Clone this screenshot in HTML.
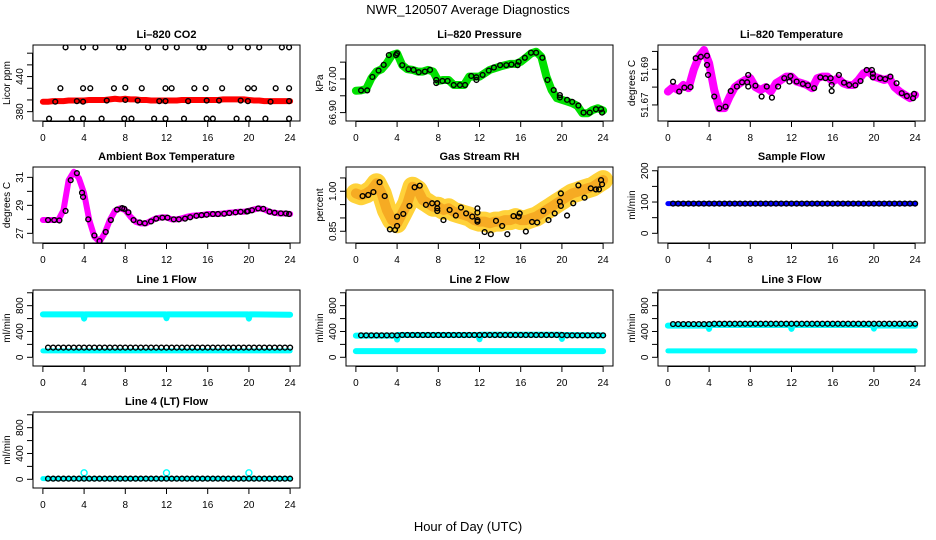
<!DOCTYPE html>
<html><head><meta charset="utf-8">
<style>
html,body{margin:0;padding:0;background:#fff;}
svg{display:block;font-family:"Liberation Sans",Arial,sans-serif;}
.ttl{font-size:11px;font-weight:bold;text-anchor:middle;}
.tk{font-size:10px;text-anchor:middle;}
</style></head>
<body>
<svg id="chart" width="936" height="540" viewBox="0 0 936 540">
<text x="468" y="14" font-size="13" text-anchor="middle">NWR_120507  Average Diagnostics</text>
<text x="468" y="531" font-size="13" text-anchor="middle">Hour of Day (UTC)</text>
</svg>
<script>
// ---- data ----
const halfHours=[0,0.5,1,1.5,2,2.5,3,3.5,4,4.5,5,5.5,6,6.5,7,7.5,8,8.5,9,9.5,10,10.5,11,11.5,12,12.5,13,13.5,14,14.5,15,15.5,16,16.5,17,17.5,18,18.5,19,19.5,20,20.5,21,21.5,22,22.5,23,23.5,24];
const co2Band=[397,397,398,398,398,399,399,399,399,400,400,400,400,401,402,401,402,401,401,400,400,399,399,399,399,399,399,400,400,400,400,400,400,400,400,401,401,401,401,401,400,399,399,398,398,398,398,398,398];
const co2TopH=[2.2,3.9,5.1,7.4,7.8,10.2,11.9,13,15.2,15.6,18.2,19.9,21,23.2,23.9];
const co2TopV=[490,490,490,490,490,490,490,490,490,490,490,490,490,490,490];
const co2MidH=[1.7,3.9,4.6,6.9,8,9.6,11.9,12.5,14.7,15.8,17.4,19.9,20.5,22.6,23.9];
const co2MidV=[420,420,420,420,421,420,420,420,420,420,420,420,420,420,420];
const co2LowH=[1.2,3.3,3.9,6.2,8,9.2,11.3,11.9,14.1,15.9,17.1,19.2,19.9,22.1,23.9];
const co2LowV=[397,398,397,399,400,399,398,398,398,399,399,399,398,397,398];
const co2BotH=[0.6,2.8,3.9,5.7,7.9,8.6,10.8,11.9,13.7,15.9,16.5,18.8,19.9,21.6,23.9];
const co2BotV=[368,368,368,368,368,368,368,368,368,368,368,368,368,368,368];

const presBand=[66.965,66.966,66.97,67.002,67.022,67.029,67.047,67.071,67.076,67.041,67.029,67.027,67.022,67.022,67.027,67.022,66.994,66.997,66.997,66.982,66.982,66.982,67.007,67.007,67.007,67.017,67.027,67.032,67.037,67.041,67.045,67.045,67.051,67.063,67.076,67.081,67.066,67.007,66.967,66.943,66.938,66.933,66.928,66.92,66.898,66.898,66.908,66.913,66.906];
const presCircH=[0.5,1.1,1.6,2.2,2.7,3.2,3.9,4.0,4.5,5.1,5.6,6.1,6.7,7.2,7.8,7.8,8.4,8.9,9.5,10.1,10.6,11.2,11.7,11.7,12.3,12.9,13.4,14.0,14.6,15.1,15.7,15.8,16.4,17.0,17.5,18.1,18.6,19.2,19.8,19.8,20.5,21.0,21.6,22.1,22.7,23.3,23.8,23.9];
const presCircV=[66.966,66.966,67.006,67.025,67.042,67.071,67.071,67.076,67.041,67.029,67.027,67.02,67.022,67.027,66.997,66.988,66.994,66.994,66.982,66.982,66.982,67.009,67.005,66.997,67.012,67.025,67.034,67.041,67.041,67.043,67.041,67.051,67.063,67.078,67.078,67.063,66.997,66.967,66.945,66.952,66.938,66.932,66.921,66.9,66.9,66.91,66.91,66.9];

const tempBand=[51.6775,51.680,51.6784,51.6812,51.6794,51.6896,51.697,51.7008,51.6934,51.6784,51.6682,51.6682,51.6747,51.680,51.6822,51.684,51.685,51.680,51.6784,51.680,51.6775,51.6822,51.684,51.6859,51.6859,51.6831,51.6822,51.6812,51.6794,51.685,51.6859,51.6859,51.6831,51.685,51.6822,51.6812,51.6812,51.684,51.6878,51.6887,51.6859,51.685,51.684,51.685,51.680,51.6775,51.6756,51.6738,51.6756];
const tempCircH=[0.5,1.1,1.6,2.2,2.7,3.2,3.8,3.8,3.9,4.5,5.0,5.6,6.1,6.7,7.2,7.7,7.8,7.8,8.5,9.1,9.6,10.1,10.7,11.3,11.8,11.9,12.5,13.1,13.6,14.2,14.8,15.3,15.8,15.9,15.9,16.6,17.1,17.6,18.2,18.7,19.3,19.8,19.9,19.9,20.6,21.1,21.6,22.2,22.7,23.2,23.8,23.9];
const tempCircV=[51.683,51.6775,51.6797,51.680,51.6962,51.697,51.6976,51.6924,51.6868,51.6747,51.6681,51.669,51.6778,51.6803,51.6827,51.6827,51.6868,51.6803,51.6808,51.6747,51.6803,51.6741,51.6803,51.685,51.6831,51.6862,51.6831,51.6818,51.681,51.6794,51.6855,51.685,51.685,51.6812,51.6778,51.6868,51.6825,51.6812,51.681,51.6834,51.6896,51.6896,51.6855,51.6875,51.685,51.6845,51.6859,51.6822,51.6766,51.675,51.6738,51.6762];

const ambBand=[27.95,27.95,27.95,27.95,28.66,30.8,31.4,30.93,29.86,27.95,26.76,26.4,27.0,27.95,28.61,28.79,28.66,28.19,27.83,27.71,27.71,27.9,28.07,28.14,28.14,28.0,28.0,28.07,28.19,28.26,28.29,28.31,28.38,28.38,28.38,28.42,28.47,28.5,28.54,28.54,28.61,28.71,28.79,28.71,28.54,28.47,28.42,28.42,28.38];
const ambCircH=[0.5,1.1,1.6,2.2,2.7,3.3,3.8,3.9,4.4,5.0,5.5,6.1,6.6,7.2,7.7,7.9,8.3,8.8,9.4,9.9,10.5,11.0,11.6,12.1,12.7,13.2,13.8,14.3,14.9,15.4,15.9,16.5,17.0,17.6,18.1,18.7,19.2,19.8,19.9,20.3,20.9,21.4,22.0,22.5,23.1,23.6,23.9];
const ambCircV=[27.95,27.95,27.92,28.6,30.8,31.3,29.9,29.6,28.0,26.85,26.45,27.1,27.95,28.7,28.8,28.75,28.5,27.95,27.78,27.72,27.85,28.05,28.12,28.12,28.0,28.0,28.05,28.15,28.25,28.3,28.33,28.38,28.38,28.4,28.45,28.5,28.54,28.56,28.58,28.65,28.78,28.75,28.55,28.47,28.43,28.42,28.38];

const rhBand=[0.992,0.985,0.992,1.005,1.03,0.992,0.93,0.892,0.88,0.917,0.955,1.017,1.005,0.967,0.955,0.942,0.942,0.93,0.936,0.923,0.917,0.911,0.905,0.892,0.886,0.886,0.88,0.886,0.886,0.892,0.892,0.899,0.892,0.892,0.899,0.905,0.917,0.93,0.942,0.955,0.967,0.98,0.992,0.998,1.005,1.011,1.017,1.03,1.042];
const rhCircH=[0.65,1.2,1.7,2.3,2.8,3.3,3.8,4.0,4.0,4.6,5.2,5.7,6.2,6.8,7.4,7.9,7.9,7.9,8.5,9.1,9.7,10.2,10.7,11.3,11.8,11.8,11.8,11.8,12.5,13.1,13.6,14.2,14.7,15.3,15.8,15.9,16.5,17.1,17.6,18.2,18.7,19.3,19.8,19.9,19.9,20.5,21.1,21.6,22.2,22.8,23.3,23.6,23.8,23.9];
const rhCircV=[0.982,0.986,0.997,1.034,0.982,0.857,0.855,0.87,0.905,0.915,0.945,1.015,1.021,0.949,0.955,0.955,0.936,0.926,0.892,0.93,0.909,0.939,0.917,0.905,0.936,0.92,0.892,0.886,0.847,0.839,0.889,0.87,0.839,0.907,0.905,0.917,0.849,0.885,0.883,0.926,0.892,0.917,0.961,0.945,0.992,0.909,0.955,1.022,0.976,1.011,1.007,1.007,1.042,1.026];

const flowCircH=[0.5,1,1.5,2,2.5,3,3.5,4,4.5,5,5.5,6,6.5,7,7.5,8,8.5,9,9.5,10,10.5,11,11.5,12,12.5,13,13.5,14,14.5,15,15.5,16,16.5,17,17.5,18,18.5,19,19.5,20,20.5,21,21.5,22,22.5,23,23.5,24];
const sampleBandH=[0,24];
const sampleBandV=[95,95];
const sampleCircV=[95,95,95,95,95,95,95,95,95,95,95,95,95,95,95,95,95,95,95,95,95,95,95,95,95,95,95,95,95,95,95,95,95,95,95,95,95,95,95,95,95,95,95,95,95,95,95,95];
const dipH=[0,3.9,4,4.1,11.9,12,12.1,19.9,20,20.1,24];
const line1UpperV=[665,665,600,665,665,605,665,665,600,665,660];
const line1LowerV=[100,100,100,100,100,100,100,100,100,100,100];
const line1CircV=[150,150,150,150,150,150,150,150,150,150,150,150,150,150,150,150,150,150,150,150,150,150,150,150,150,150,150,150,150,150,150,150,150,150,150,150,150,150,150,150,150,150,150,150,150,150,150,150];
const line2UpperV=[335,335,275,345,345,280,350,350,285,345,340];
const line2LowerV=[95,95,95,95,95,95,95,95,95,95,95];
const line2CircV=[340,340,340,340,340,340,340,340,345,345,345,345,345,345,345,345,345,345,345,345,345,345,345,345,345,345,345,345,345,345,345,345,345,345,345,345,345,345,345,345,340,340,340,340,340,340,340,340];
const line3UpperV=[490,490,440,500,500,440,500,500,445,495,490];
const line3LowerV=[100,100,100,100,100,100,100,100,100,100,100];
const line3CircV=[515,515,515,515,515,515,515,515,520,520,520,520,520,520,520,520,520,520,520,520,520,520,520,520,520,520,520,520,520,520,520,520,520,520,520,520,520,520,520,520,520,520,520,520,520,520,520,520];
const line4BandV=[10,10,10,10,10,10,10,10,10,10,10];
const line4SpikeH=[4,12,20];
const line4SpikeV=[100,100,100];
const line4CircV=[10,10,10,10,10,10,10,10,10,10,10,10,10,10,10,10,10,10,10,10,10,10,10,10,10,10,10,10,10,10,10,10,10,10,10,10,10,10,10,10,10,10,10,10,10,10,10,10];
const xTicks=[0,4,8,12,16,20,24];

// ---- drawing ----
const NS='http://www.w3.org/2000/svg';
const svg=document.getElementById('chart');
const colX=[33,346,658], rowY=[45,167,290,412], BW=267, BH=76;
function mk(tag,attrs,parent){const e=document.createElementNS(NS,tag);for(const k in attrs)e.setAttribute(k,attrs[k]);(parent||svg).appendChild(e);return e;}

function panel(key,c,r,title,ylab,ymin,ymax,yTicks,yLabels){
  const x0=colX[c], y0=rowY[r];
  const g=mk('g',{});
  
  
  const sx=h=>x0+(h+0.96)/25.92*BW;
  const sy=v=>y0+BH-(v-ymin)/(ymax-ymin)*BH;
  const t=mk('text',{x:x0+BW/2,y:y0-7,class:'ttl'},g);t.textContent=title;
  
  
  const yl=mk('text',{x:0,y:0,'font-size':10,'text-anchor':'middle',transform:`translate(${x0-23},${y0+BH/2}) rotate(-90)`},g);yl.textContent=ylab;
  
  
  const xa=mk('g',{},g);
  
  
  mk('line',{x1:sx(0),x2:sx(24),y1:y0+BH+0.5,y2:y0+BH+0.5,stroke:'#000','stroke-width':1},xa);
  xTicks.forEach(h=>{
    mk('line',{x1:sx(h),x2:sx(h),y1:y0+BH,y2:y0+BH+6,stroke:'#000','stroke-width':1},xa);
    const tx=mk('text',{x:sx(h),y:y0+BH+20,class:'tk'},xa);tx.textContent=h;
  });
  const ya=mk('g',{},g);
  
  
  mk('line',{x1:x0-0.5,x2:x0-0.5,y1:sy(yTicks[0]),y2:sy(yTicks[yTicks.length-1]),stroke:'#000','stroke-width':1},ya);
  yTicks.forEach((v,i)=>{
    mk('line',{x1:x0-6,x2:x0,y1:sy(v),y2:sy(v),stroke:'#000','stroke-width':1},ya);
    if(yLabels[i]){const tx=mk('text',{x:0,y:0,class:'tk',transform:`translate(${x0-10},${sy(v)}) rotate(-90)`},ya);tx.textContent=yLabels[i];}
  });
  const plot=mk('g',{},g);
  
  
  mk('rect',{x:x0,y:y0,width:BW,height:BH,fill:'none',stroke:'#000','stroke-width':1},g);
  const cp=mk('clipPath',{id:'cp'+key},g);
  mk('rect',{x:x0,y:y0,width:BW,height:BH},cp);
  plot.setAttribute('clip-path',`url(#cp${key})`);
  return {
    band(hs,vs,color,w,name,op){
      const p=mk('polyline',{points:hs.map((h,i)=>sx(h)+','+sy(vs[i])).join(' '),fill:'none',stroke:color,'stroke-width':w,'stroke-linejoin':'round','stroke-linecap':'round','stroke-opacity':op||1},plot);
      
      
    },
    circles(hs,vs,color,name,rad){
      const cg=mk('g',{},plot);
      
      
      hs.forEach((h,i)=>{mk('circle',{cx:sx(h),cy:sy(vs[i]),r:rad||2.4,fill:'none',stroke:color,'stroke-width':1.4},cg);});
    }
  };
}

let p;
p=panel('co2',0,0,'Li\u2013820 CO2','Licor ppm',364,494,[380,400,420,440,460,480],['380','','','440','','']);
p.band(halfHours,co2Band,'#ff0000',6,'co2-red-series');
p.circles(co2TopH,co2TopV,'#000','co2-top-points');
p.circles(co2MidH,co2MidV,'#000','co2-mid-points');
p.circles(co2LowH,co2LowV,'#000','co2-line-points');
p.circles(co2BotH,co2BotV,'#000','co2-bottom-points');

p=panel('pressure',1,0,'Li\u2013820 Pressure','kPa',66.875,67.101,[66.90,66.95,67.00,67.05],['66.90','','67.00','']);
p.band(halfHours,presBand,'#00e000',8,'pressure-green-series');
p.circles(presCircH,presCircV,'#000','pressure-points');

p=panel('temp',2,0,'Li\u2013820 Temperature','degrees C',51.661,51.7036,[51.67,51.68,51.69,51.70],['51.67','','51.69','']);
p.band(halfHours,tempBand,'#ff00ff',8,'temp-magenta-series');
p.circles(tempCircH,tempCircV,'#000','temp-points');

p=panel('ambient',0,1,'Ambient Box Temperature','degrees C',26.31,31.74,[27,28,29,30,31],['27','','29','','31']);
p.band(halfHours,ambBand,'#ff00ff',6,'ambient-magenta-series');
p.circles(ambCircH,ambCircV,'#000','ambient-points');

p=panel('rh',1,1,'Gas Stream RH','percent',0.806,1.091,[0.85,0.90,0.95,1.00,1.05],['0.85','','','1.00','']);
p.band(halfHours,rhBand,'#ffd23a',20,'rh-yellow-series');
p.band(halfHours,rhBand,'#f29a1a',10,'rh-orange-core',0.7);
p.circles(rhCircH,rhCircV,'#000','rh-points');

p=panel('sample',2,1,'Sample Flow','ml/min',-31,212,[0,50,100,150,200],['0','','100','','200']);
p.band(sampleBandH,sampleBandV,'#0000ff',5,'sample-blue-series');
p.circles(flowCircH,sampleCircV,'#000','sample-points');

const fT=[0,200,400,600,800,1000], fL=['0','','400','','800',''];
p=panel('line1',0,2,'Line 1 Flow','ml/min',-135,1043,fT,fL);
p.band(dipH,line1UpperV,'#00ffff',6,'line1-cyan-upper');
p.band(dipH,line1LowerV,'#00ffff',5,'line1-cyan-lower');
p.circles(flowCircH,line1CircV,'#000','line1-points');

p=panel('line2',1,2,'Line 2 Flow','ml/min',-135,1043,fT,fL);
p.band(dipH,line2UpperV,'#00ffff',6,'line2-cyan-upper');
p.band(dipH,line2LowerV,'#00ffff',6,'line2-cyan-lower');
p.circles(flowCircH,line2CircV,'#000','line2-points');

p=panel('line3',2,2,'Line 3 Flow','ml/min',-135,1043,fT,fL);
p.band(dipH,line3UpperV,'#00ffff',6,'line3-cyan-upper');
p.band(dipH,line3LowerV,'#00ffff',5,'line3-cyan-lower');
p.circles(flowCircH,line3CircV,'#000','line3-points');

p=panel('line4',0,3,'Line 4 (LT) Flow','ml/min',-135,1043,fT,fL);
p.band(dipH,line4BandV,'#00ffff',5,'line4-cyan-series');
p.circles(line4SpikeH,line4SpikeV,'#00ffff','line4-cyan-spikes',3);
p.circles(flowCircH,line4CircV,'#000','line4-points');
</script>
</body></html>
